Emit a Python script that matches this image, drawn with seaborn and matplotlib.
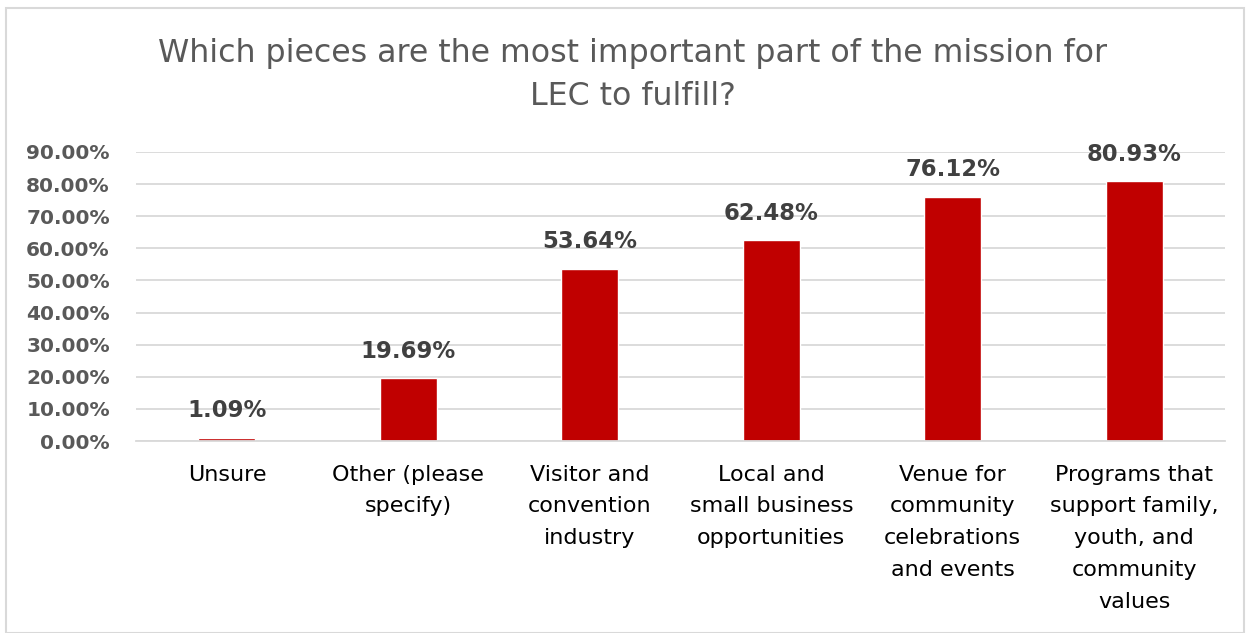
import pandas as pd
import seaborn as sns
import matplotlib.pyplot as plt
from matplotlib.patches import Rectangle
from matplotlib.ticker import PercentFormatter

# Data
categories = [
    "Unsure",
    "Other (please\nspecify)",
    "Visitor and\nconvention\nindustry",
    "Local and\nsmall business\nopportunities",
    "Venue for\ncommunity\ncelebrations\nand events",
    "Programs that\nsupport family,\nyouth, and\ncommunity\nvalues",
]
shares = [0.0109, 0.1969, 0.5364, 0.6248, 0.7612, 0.8093]
yticks = [0.0, 0.1, 0.2, 0.3, 0.4, 0.5, 0.6, 0.7, 0.8, 0.9]

df = pd.DataFrame({"category": categories, "share": shares})

sns.set_theme(style="white")
plt.rcParams['font.family'] = ['DejaVu Sans']

fig = plt.figure(figsize=(12.5, 6.33), dpi=100)
ax = fig.add_axes([0.109, 0.3033, 0.871, 0.4566])

sns.barplot(data=df, x="category", y="share", color="#C00000",
            saturation=1, width=0.314, ax=ax)

ax.set_ylim(0, 0.9)
ax.set_yticks(yticks)
ax.yaxis.set_major_formatter(PercentFormatter(1.0, decimals=2))
ax.grid(axis="y", color="#D9D9D9", linewidth=1.3)
ax.set_axisbelow(True)
for s in ["top", "right", "left"]:
    ax.spines[s].set_visible(False)
ax.spines["bottom"].set_color("#D9D9D9")
ax.spines["bottom"].set_linewidth(1.3)

ax.set_xlabel("")
ax.set_ylabel("")
ax.set_xticks(range(len(categories)))
ax.set_xticklabels(categories, linespacing=1.74)
ax.tick_params(axis="y", length=0, pad=19, labelsize=14.5, labelcolor="#595959")
ax.tick_params(axis="x", length=0, pad=17, labelsize=16, labelcolor="#000000")
for lab in ax.get_yticklabels():
    lab.set_fontweight("bold")

# value labels
for i, v in enumerate(shares):
    ax.annotate(f"{v * 100:.2f}%", (i, v), xytext=(0, 11), textcoords="offset points",
                ha="center", va="bottom", fontsize=16.4, fontweight="bold", color="#404040")

fig.text(0.506, 0.881, "Which pieces are the most important part of the mission for\nLEC to fulfill?",
         ha="center", va="center", fontsize=22.8, color="#595959", linespacing=1.5)

# chart border
fig.patches.append(Rectangle((0.005, 0.0), 0.99, 0.988, transform=fig.transFigure,
                             fill=False, edgecolor="#D9D9D9", linewidth=1.5))

fig.savefig("out.png", dpi=100)
